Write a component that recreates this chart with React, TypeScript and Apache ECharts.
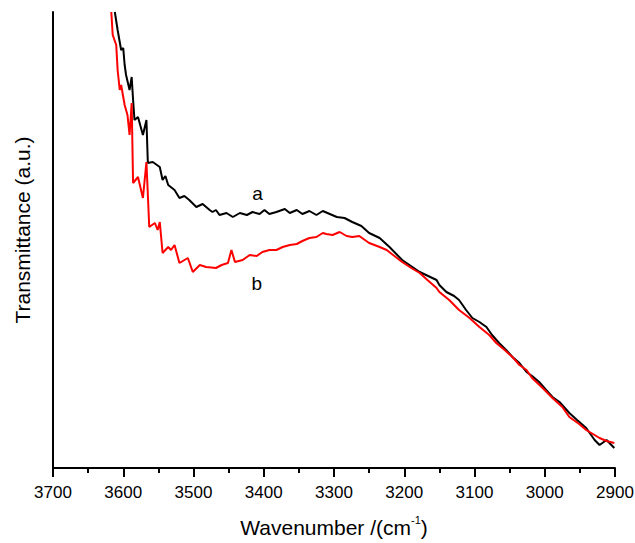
import React, { useEffect, useRef } from "react";
import * as echarts from "echarts";

// Sample a (black)
const waveA = [3612, 3608, 3603, 3600, 3598, 3596, 3591, 3588, 3586, 3584, 3579, 3572, 3567, 3565, 3558, 3548, 3544, 3540, 3536, 3527, 3520, 3513, 3506, 3496, 3487, 3477, 3473, 3468, 3463, 3453, 3444, 3434, 3424, 3416, 3406, 3399, 3392, 3382, 3370, 3363, 3353, 3345, 3335, 3325, 3316, 3306, 3296, 3285, 3274, 3261, 3250, 3235, 3221, 3203, 3178, 3154, 3150, 3140, 3129, 3122, 3112, 3103, 3093, 3083, 3075, 3065, 3055, 3046, 3036, 3026, 3018, 3008, 2998, 2989, 2979, 2965, 2954, 2941, 2929, 2922, 2912, 2901];
const valuesA = [456, 438, 418, 420, 403, 393, 378, 391, 368, 348, 351, 333, 348, 305, 306, 301, 288, 292, 283, 278, 270, 272, 268, 261, 264, 258, 256, 258, 253, 255, 251, 255, 253, 256, 254, 258, 254, 256, 259, 255, 258, 254, 257, 253, 257, 254, 251, 250, 246, 242, 235, 230, 221, 208, 196, 188, 183, 176, 172, 168, 158, 150, 146, 141, 133, 125, 118, 111, 105, 96, 92, 86, 78, 71, 66, 55, 48, 40, 28, 23, 28, 20];

// Sample b (red)
const waveB = [3617, 3615, 3610, 3608, 3605, 3603, 3598, 3594, 3591, 3588, 3586, 3579, 3572, 3567, 3563, 3555, 3551, 3548, 3544, 3536, 3532, 3527, 3520, 3508, 3501, 3491, 3482, 3468, 3460, 3451, 3446, 3441, 3430, 3420, 3410, 3402, 3392, 3382, 3373, 3363, 3353, 3345, 3335, 3325, 3316, 3311, 3302, 3292, 3282, 3274, 3264, 3250, 3235, 3225, 3214, 3203, 3190, 3178, 3167, 3154, 3150, 3136, 3122, 3107, 3093, 3079, 3069, 3057, 3046, 3036, 3026, 3018, 3003, 2989, 2975, 2965, 2951, 2941, 2929, 2922, 2912, 2901];
const valuesB = [456, 433, 423, 398, 378, 383, 363, 353, 333, 365, 285, 291, 270, 306, 241, 245, 238, 246, 215, 221, 218, 223, 205, 210, 196, 203, 201, 200, 203, 205, 218, 206, 208, 213, 212, 216, 218, 218, 221, 223, 224, 227, 230, 231, 235, 234, 233, 236, 232, 231, 232, 225, 221, 218, 212, 206, 200, 195, 188, 180, 176, 168, 158, 150, 141, 133, 125, 118, 111, 103, 98, 90, 80, 70, 61, 51, 44, 38, 33, 30, 27, 25];

const xTickMin = 2900;
const xTickMax = 3700;
const xTickStep = 100;

const labelA = { text: "a", wave: 3409, value: 275 };
const labelB = { text: "b", wave: 3410, value: 185 };

const FONT = "'Liberation Sans', Arial, sans-serif";

export default function App() {
  const ref = useRef<HTMLDivElement>(null);
  useEffect(() => {
    if (!ref.current) return;
    const chart = echarts.init(ref.current, null, { renderer: "svg" });
    const pair = (xs: number[], ys: number[]) => xs.map((x, i) => [x, ys[i]]);
    const markLabel = (l: { text: string; wave: number; value: number }) => ({
      symbol: "circle",
      symbolSize: 0,
      silent: true,
      label: {
        show: true,
        position: "inside",
        formatter: l.text,
        fontSize: 19,
        color: "#000",
        fontFamily: FONT,
      },
      data: [{ coord: [l.wave, l.value] }],
    });
    chart.setOption({
      animation: false,
      backgroundColor: "#fff",
      textStyle: { fontFamily: FONT },
      grid: { left: 53, right: 20, top: 12, bottom: 75, containLabel: false, outerBoundsMode: "none" },
      xAxis: {
        type: "value",
        min: xTickMin,
        max: xTickMax,
        interval: xTickStep,
        inverse: true,
        name: "{n|Wavenumber /(cm}{s|-1}{n|)}",
        nameLocation: "middle",
        nameGap: 46,
        nameTextStyle: {
          rich: {
            n: { fontSize: 21, color: "#000", fontFamily: FONT, verticalAlign: "bottom", lineHeight: 24 },
            s: { fontSize: 11, color: "#000", fontFamily: FONT, verticalAlign: "top", lineHeight: 24, padding: [0, 0, 12, 0] },
          },
        },
        axisLine: { show: true, onZero: false, lineStyle: { color: "#000", width: 2 } },
        axisTick: { show: true, inside: false, length: 9, lineStyle: { color: "#000", width: 2 } },
        minorTick: { show: true, splitNumber: 2, length: 5, lineStyle: { color: "#000", width: 2 } },
        axisLabel: {
          show: true,
          fontSize: 17,
          color: "#000",
          margin: 16,
          fontFamily: FONT,
          showMinLabel: true,
          showMaxLabel: true,
          formatter: (v: number) => String(v),
        },
        splitLine: { show: false },
        minorSplitLine: { show: false },
      },
      yAxis: {
        type: "value",
        min: 0,
        max: 456,
        name: "Transmittance (a.u.)",
        nameLocation: "middle",
        nameGap: 20,
        nameTextStyle: { fontSize: 21, color: "#000", fontFamily: FONT, padding: [0, 0, 0, 20] },
        axisLine: { show: true, onZero: false, lineStyle: { color: "#000", width: 2 } },
        axisTick: { show: false },
        axisLabel: { show: false },
        splitLine: { show: false },
      },
      series: [
        {
          name: "a",
          type: "line",
          data: pair(waveA, valuesA),
          showSymbol: false,
          lineStyle: { color: "#000", width: 2 },
          itemStyle: { color: "#000" },
          markPoint: markLabel(labelA),
        },
        {
          name: "b",
          type: "line",
          data: pair(waveB, valuesB),
          showSymbol: false,
          lineStyle: { color: "#ff0000", width: 2 },
          itemStyle: { color: "#ff0000" },
          markPoint: markLabel(labelB),
        },
      ],
    });
    return () => chart.dispose();
  }, []);
  return (
    <div
      ref={ref}
      style={{ position: "fixed", left: 0, top: 0, width: 635, height: 543, background: "#fff" }}
    />
  );
}
